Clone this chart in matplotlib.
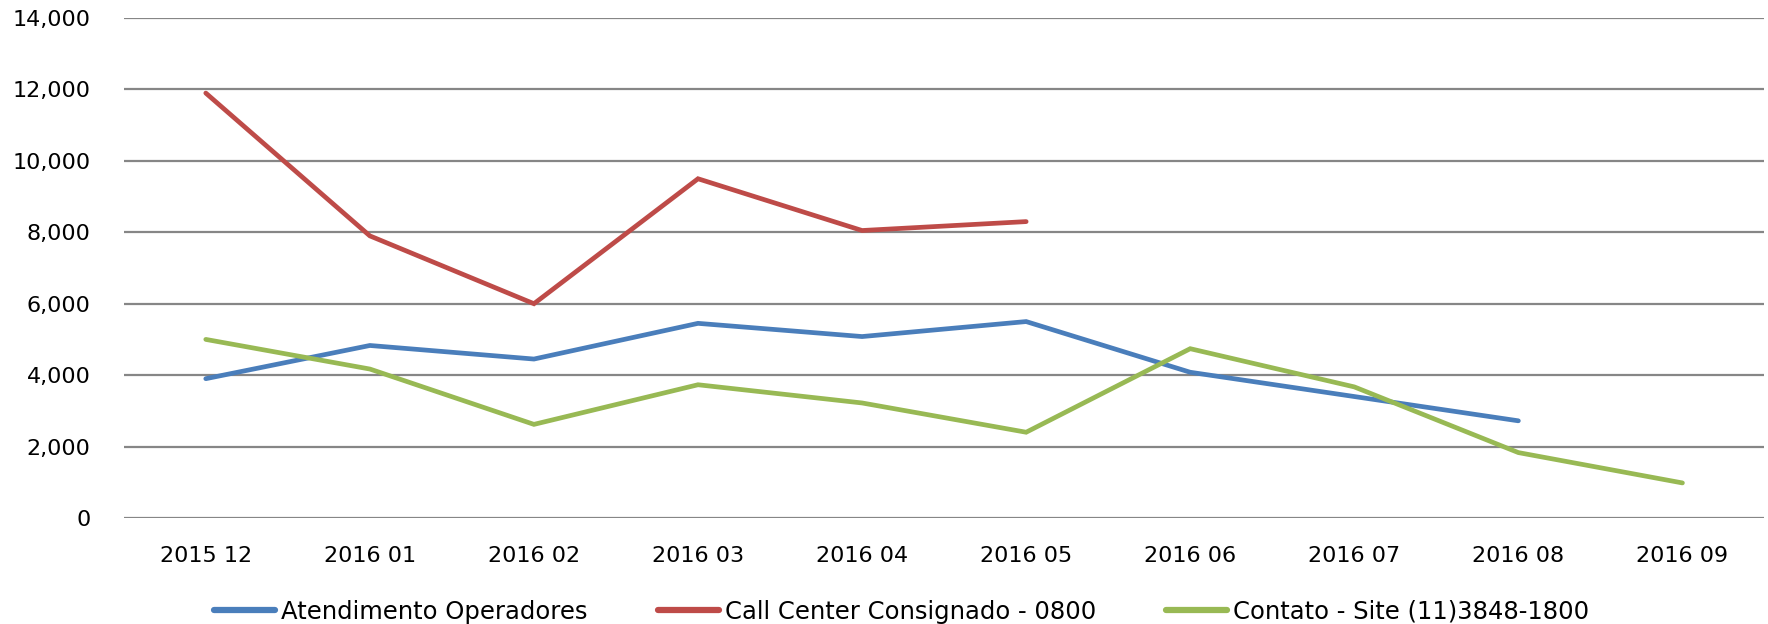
import numpy as np
import matplotlib
matplotlib.use("Agg")
import matplotlib.pyplot as plt
from matplotlib.ticker import FuncFormatter

# dados
meses = ["2015 12", "2016 01", "2016 02", "2016 03", "2016 04",
         "2016 05", "2016 06", "2016 07", "2016 08", "2016 09"]
atendimento = [3900, 4830, 4450, 5450, 5080, 5500, 4080, 3400, 2720, None]
call_center = [11900, 7900, 6000, 9500, 8050, 8300, None, None, None, None]
contato_site = [5000, 4170, 2620, 3730, 3220, 2400, 4740, 3670, 1830, 980]

nomes = ["Atendimento Operadores", "Call Center Consignado - 0800",
         "Contato - Site (11)3848-1800"]
cores = ["#4A7EBB", "#BE4B48", "#98B954"]


def arr(v):
    return np.array([np.nan if x is None else x for x in v], dtype=float)


fig = plt.figure(figsize=(17.68, 6.24), dpi=100)
ax = fig.add_axes([0.070, 0.170, 0.928, 0.801])

x = np.arange(len(meses))
for serie, nome, cor in zip([atendimento, call_center, contato_site], nomes, cores):
    ax.plot(x, arr(serie), color=cor, lw=3.4, label=nome, solid_capstyle="round",
            solid_joinstyle="miter", zorder=3)

ax.set_xlim(-0.5, len(meses) - 0.5)
ax.set_ylim(0, 14000)
ax.set_yticks(np.arange(0, 14001, 2000))
ax.yaxis.set_major_formatter(FuncFormatter(lambda v, p: f"{int(v):,}"))
ax.set_xticks(x)
ax.set_xticklabels(meses)
ax.grid(axis="y", color="#868686", lw=1.6)
ax.set_axisbelow(True)
for s in ax.spines.values():
    s.set_visible(False)
ax.tick_params(length=0, labelsize=16, colors="black")
ax.tick_params(axis="y", pad=24)
ax.tick_params(axis="x", pad=20)

leg = fig.legend(loc="lower center", bbox_to_anchor=(0.51, -0.035), ncol=3,
                 frameon=False, handlelength=2.5, handletextpad=0.25,
                 columnspacing=2.9,
                 prop={"family": ["Liberation Sans Narrow", "DejaVu Sans"], "size": 17.5})
for l in leg.get_lines():
    l.set_linewidth(4.5)

fig.savefig("out.png", dpi=100)
